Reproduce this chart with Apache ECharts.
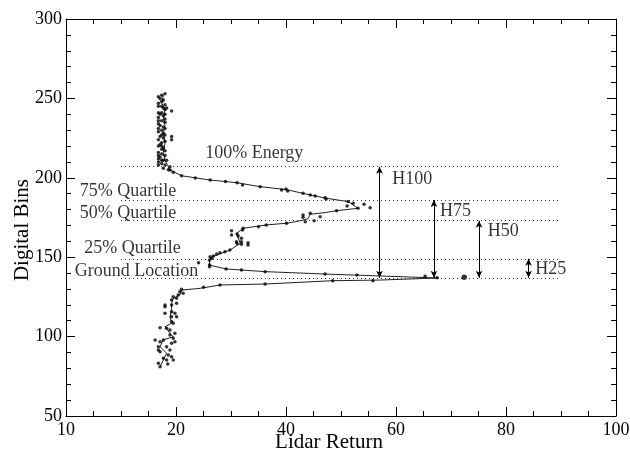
<!DOCTYPE html>
<html><head><meta charset="utf-8">
<script src="https://cdn.jsdelivr.net/npm/echarts@6/dist/echarts.min.js"></script>
<style>html,body{margin:0;padding:0;background:#fff}#c{width:630px;height:453px}</style>
</head><body><div id="c"></div>
<script>
const xTickLabels = ['10','20','40','60','80','100'];
const yTickLabels = ['50','100','150','200','250','300'];

const topDots = [[17.4,252],[18.0,253],[16.8,251],[17.1,250],[17.7,249],[17.4,248],[16.8,247],[18.0,246],[17.4,245],[18.3,244],[18.0,243],[19.2,242],[17.4,241],[17.1,240],[17.7,239],[16.8,238],[18.0,237],[17.4,236],[18.0,235],[16.8,234],[17.1,233],[17.7,232],[18.0,231],[17.4,230],[16.8,229],[17.7,228],[18.0,227],[17.1,226],[19.2,226],[17.7,225],[16.8,224],[19.2,224],[18.0,223],[17.4,222],[17.1,221],[16.8,220],[17.7,219],[17.4,218],[18.0,217],[16.8,216],[17.4,215],[18.0,214],[17.1,213],[16.8,212],[17.7,211],[18.3,211],[16.8,210],[17.4,209],[16.8,208],[18.0,208],[18.9,207],[17.7,206],[18.6,205],[16.8,245],[16.8,241],[16.8,236],[16.8,231],[17.4,227],[17.4,220],[16.8,214],[17.4,211],[17.7,244],[18.0,240]];

const waveDots = [[18.9,204.9],[19.5,203.5],[21.0,201.3],[23.5,199.8],[26.2,198.6],[29.0,197.7],[31.1,196.9],[32.1,195.5],[35.3,194.4],[39.2,192.3],[40.0,192.9],[40.3,191.7],[43.1,190.2],[44.4,189.2],[45.3,188.5],[47.1,187.5],[47.3,186.6],[51.3,185.0],[52.2,183.9],[51.1,182.2],[53.1,180.8],[54.2,183.3],[55.3,181.2],
[49.2,179.3],[46.2,175.5],[44.4,177.6],[43.1,176.6],[43.1,175.1],[45.1,173.0],[43.5,172.4],[40.1,171.4],[36.4,170.3],[35.0,169.2],[32.2,168.2],[32.1,167.1],[30.1,166.7],[30.1,164.0],[31.1,164.6],[31.3,163.4],[31.9,161.9],[31.0,159.8],[31.9,159.8],[33.1,159.1],[33.1,157.7],[31.1,158.7],[31.9,158.1],[29.8,154.5],[28.9,153.5],[28.0,152.8],[27.4,152.0],[26.8,150.8],[26.2,150.3],[26.1,148.2],[26.5,149.3],[24.1,146.5],[26.1,145.1],
[26.1,144.0],[29.1,142.6],[31.9,141.9],[36.2,140.9],[47.1,139.4],[52.9,138.8],[65.3,138.0],[67.5,137.0],
[55.8,135.2],[48.5,135.2],[36.2,133.1],[28.0,132.5],[25.0,131.0],[21.0,129.8],[20.7,128.3],[21.3,127.3],[20.4,126.2],[19.5,125.1],[20.1,124.1],[19.2,123.0]];

const bottomDots = [[18.0,119.9],[18.0,118.8],[19.2,119.9],[20.1,121.0],[18.0,114.7],[19.2,115.7],[19.8,114.7],[19.2,112.5],[20.1,112.5],[19.2,109.4],[19.5,108.4],[17.1,105.6],[18.3,105.2],[18.9,104.2],[19.8,102.1],[18.9,101.0],[19.5,98.9],[16.2,97.9],[17.7,97.9],[17.1,96.8],[19.8,96.8],[19.2,95.8],[16.8,93.6],[16.8,91.6],[18.3,93.6],[18.9,91.6],[17.1,90.5],[18.6,88.4],[19.2,87.3],[17.7,86.3],[18.3,85.3],[19.5,85.3],[16.8,83.2],[17.1,81.0],[18.5,82.7]];

const bigDot = [[72.4,137.3]];

const waveLine = [[17.7,252],[17.4,247],[18.0,243],[17.7,238],[18.0,233],[17.7,228],[18.0,222],[17.7,216],[18.0,211],[18.6,207],[18.9,205],[21.0,201.3],[26.2,198.6],[31.1,196.9],[35.3,194.4],[40.0,192.6],[44.4,189.2],[47.2,187.2],[51.3,185.0],[53.1,180.8],[49.2,179.3],[47.1,178.1],[44.4,177.0],[44.0,174.2],[42.0,172.5],[40.1,171.4],[36.4,170.3],[32.2,168.2],[31.0,165.0],[31.7,158.7],[29.8,154.5],[26.8,150.5],[26.1,148.0],[26.1,145.0],[29.1,142.6],[36.2,140.9],[47.1,139.4],[57.0,138.2],[67.5,136.9],[57.0,135.6],[48.5,135.2],[36.2,133.1],[28.0,132.5],[24.4,130.4],[21.0,129.3],[20.7,126.2],[19.5,124.1],[19.2,121.0],[19.2,116.8],[18.9,112.5],[19.2,108.4],[18.0,106.2],[18.9,102.1],[19.5,99.9],[17.7,97.9],[17.1,93.6],[18.3,89.5],[17.7,85.3],[17.1,81.0]];

const levelValues = [207, 186, 173, 149, 137];
const levelStart = 10, levelEnd = 90;

const arrowX = [57.0, 66.9, 75.1, 84.1];
const arrowTop = [207, 186, 173, 149];
const arrowBottom = 137;

const labelTexts = ['100% Energy','75% Quartile','50% Quartile','25% Quartile','Ground Location','H100','H75','H50','H25'];
const labelX = [25.3, 2.5, 2.5, 3.3, 1.6, 59.3, 68.0, 76.7, 85.3];
const labelY = [215.6, 191.7, 177.8, 155.8, 141.3, 199.2, 179.1, 166.5, 142.6];

const FONT = 'Liberation Serif';
const chart = echarts.init(document.getElementById('c'), null, {renderer:'canvas'});

function axisBase(){
  return {
    type:'value', splitLine:{show:false},
    axisLine:{show:true, onZero:false, lineStyle:{color:'#000', width:1}},
    axisTick:{show:true, inside:true, length:9, lineStyle:{color:'#000', width:1}},
  };
}
const txt = {fontFamily:FONT, fontSize:18, color:'#000'};
const titleTxt = {fontFamily:FONT, fontSize:21, color:'#000'};

const option = {
  animation:false,
  backgroundColor:'#fff',
  grid:{left:66, right:14, top:19, bottom:37, containLabel:false, outerBoundsMode:'none'},
  xAxis:[
    Object.assign(axisBase(), {position:'bottom', min:0, max:100, interval:20,
      minorTick:{show:true, splitNumber:4, length:5, lineStyle:{color:'#000'}},
      axisLabel:Object.assign({formatter:v=>xTickLabels[Math.round(v/20)], margin:5, showMaxLabel:true}, txt),
      name:'Lidar Return', nameLocation:'middle', nameGap:16, nameMoveOverlap:false,
      nameTextStyle:Object.assign({verticalAlign:'top', padding:[0,24,0,0]}, titleTxt)}),
    Object.assign(axisBase(), {position:'top', min:0, max:100, interval:20,
      minorTick:{show:true, splitNumber:4, length:5, lineStyle:{color:'#000'}},
      axisLabel:{show:false}})
  ],
  yAxis:[
    Object.assign(axisBase(), {position:'left', min:50, max:300, interval:50,
      minorTick:{show:true, splitNumber:5, length:5, lineStyle:{color:'#000'}},
      axisLabel:Object.assign({formatter:v=>yTickLabels[Math.round((v-50)/50)], margin:4}, txt),
      name:'Digital Bins', nameLocation:'middle', nameGap:33, nameMoveOverlap:false,
      nameTextStyle:Object.assign({padding:[0,25,0,0]}, titleTxt)}),
    Object.assign(axisBase(), {position:'right', min:50, max:300, interval:50,
      minorTick:{show:true, splitNumber:5, length:5, lineStyle:{color:'#000'}},
      axisLabel:{show:false}})
  ],
  series:[
    {type:'line', data:waveLine, showSymbol:false, symbol:'none', lineStyle:{color:'#222', width:1}, z:2, silent:true,
     markLine:{silent:true, symbol:['none','none'], animation:false, label:{show:false},
       lineStyle:{color:'#333', width:1, type:[1,3]},
       data: levelValues.map(v=>[{coord:[levelStart, v]}, {coord:[levelEnd, v]}])}},
    {type:'line', data:[], markLine:{silent:true, animation:false, symbol:['arrow','arrow'], symbolSize:[5,7], label:{show:false},
       lineStyle:{color:'#000', width:1, type:'solid'},
       data: arrowX.map((x,i)=>[{coord:[x, arrowTop[i]]}, {coord:[x, arrowBottom]}])}},
    {type:'scatter', data:topDots.concat(waveDots, bottomDots), symbolSize:3.5, itemStyle:{color:'#000'}, z:3, silent:true},
    {type:'scatter', data:bigDot, symbolSize:5.5, itemStyle:{color:'#000'}, z:3, silent:true},
    {type:'scatter', data:labelTexts.map((t,i)=>({value:[labelX[i], labelY[i]], name:t})), symbolSize:0, silent:true,
     label:Object.assign({show:true, position:'right', distance:0, formatter:p=>p.name}, txt), z:4}
  ]
};
chart.setOption(option);
</script></body></html>
